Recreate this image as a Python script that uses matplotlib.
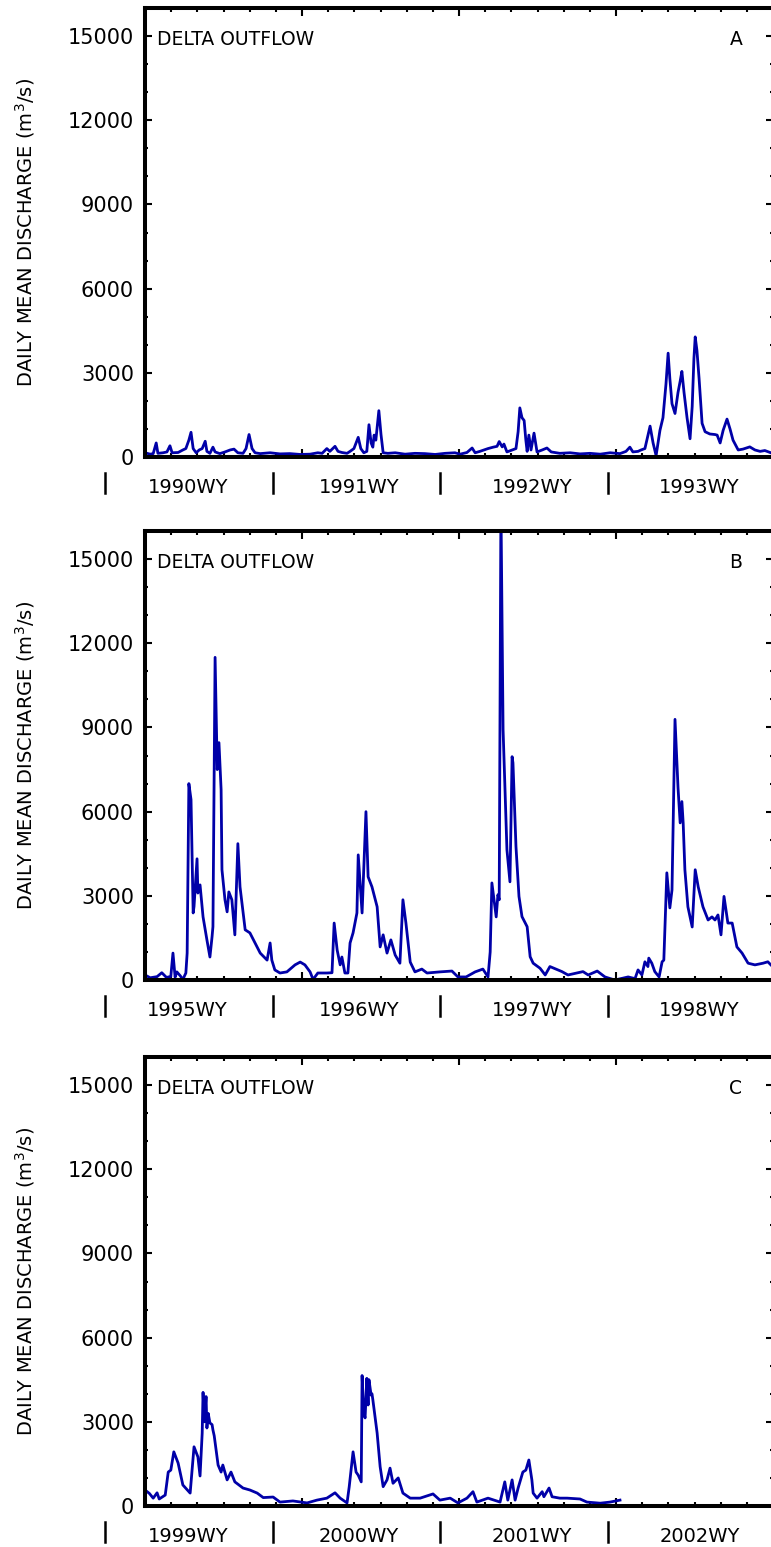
import matplotlib
matplotlib.use('Agg')
import matplotlib.pyplot as plt
from matplotlib.ticker import MultipleLocator

# days since Oct 1 of the first water year shown, daily mean discharge (m3/s)
a_day = [0, 12, 19, 26, 30, 42, 51, 58, 63, 77, 88, 95, 102, 107, 112, 119, 126, 133, 140, 144,
         151, 158, 163, 174, 186, 198, 207, 216, 228, 235, 242, 249, 256, 268, 291, 314, 337, 361,
         384, 402, 412, 423, 430, 442, 449, 458, 470, 477, 486, 496, 502, 509, 516, 521, 526, 530,
         533, 537, 544, 549, 554, 565, 582, 605, 628, 651, 675, 698, 721, 733, 749, 761, 768, 779,
         798, 810, 819, 824, 831, 835, 842, 854, 863, 868, 872, 877, 882, 886, 889, 893, 898, 905,
         912, 924, 935, 945, 965, 989, 1012, 1035, 1059, 1082, 1105, 1119, 1128, 1135, 1147, 1154,
         1163, 1175, 1182, 1189, 1198, 1205, 1212, 1217, 1221, 1226, 1233, 1240, 1245, 1249, 1254,
         1261, 1268, 1273, 1277, 1280, 1284, 1289, 1296, 1303, 1314, 1326, 1331, 1338, 1345, 1354,
         1361, 1368, 1380, 1391, 1407, 1419, 1431, 1442, 1456]
a_flow = [150, 100, 120, 500, 130, 150, 180, 400, 150, 160, 250, 300, 600, 880, 300, 150, 250, 300, 560, 200,
          130, 350, 180, 120, 180, 250, 280, 150, 130, 300, 800, 300, 150, 120, 150, 110, 120, 90,
          100, 150, 130, 300, 200, 380, 200, 160, 130, 200, 300, 700, 300, 150, 200, 1150, 500, 350,
          780, 600, 1650, 800, 150, 130, 150, 100, 130, 120, 90, 130, 150, 100, 160, 320, 150, 200,
          300, 350, 380, 550, 360, 460, 180, 250, 300, 900, 1750, 1400, 1300, 600, 200, 780, 250, 850,
          180, 250, 320, 180, 130, 150, 110, 130, 100, 150, 120, 200, 350, 180, 200, 250,
          300, 1100, 500, 50, 950, 1400, 2600, 3700, 2800, 1900, 1550, 2300, 2700, 3050, 2300,
          1400, 650, 1800, 3500, 4280, 3800, 2800, 1200, 900, 820, 800, 780, 500, 950, 1350,
          1000, 600, 250, 280, 360, 250, 200, 230, 150]

b_day = [0, 12, 28, 39, 50, 60, 65, 70, 74, 82, 88, 95, 98, 102, 107, 112, 114, 121, 123, 128,
         135, 144, 151, 156, 158, 163, 168, 172, 177, 179, 186, 191, 195, 202, 209, 216, 221, 233,
         244, 256, 268, 284, 291, 295, 302, 314, 330, 349, 361, 372, 384, 391, 402, 423, 435, 440,
         447, 454, 458, 465, 472, 477, 484, 493, 496, 505, 514, 519, 528, 540, 547, 554, 563, 572,
         582, 593, 600, 607, 617, 628, 644, 656, 686, 714, 728, 747, 768, 786, 798, 803, 807, 817,
         821, 824, 828, 833, 842, 849, 854, 856, 863, 870, 877, 889, 896, 903, 919, 931, 942, 970,
         984, 1019, 1031, 1052, 1070, 1093, 1124, 1140, 1147, 1156, 1163, 1170, 1172, 1179, 1186,
         1196, 1203, 1207, 1214, 1221, 1226, 1233, 1240, 1245, 1249, 1252, 1256, 1263, 1273, 1280,
         1287, 1298, 1310, 1319, 1326, 1333, 1340, 1347, 1356, 1366, 1377, 1389, 1403, 1419, 1438,
         1449, 1456]
b_flow = [180, 80, 120, 260, 90, 130, 960, 100, 290, 150, 20, 250, 960, 7000, 6430, 2390, 2620, 4320, 3100, 3390,
          2250, 1430, 820, 1550, 1900, 11500, 7500, 8460, 6790, 3930, 2860, 2430, 3140, 2860, 1610, 4860, 3320, 1790,
          1680, 1320, 960, 710, 1320, 710, 360, 250, 290, 540, 640, 540, 290, 20, 250, 250, 260, 2030,
          1070, 540, 820, 250, 250, 1320, 1680, 2390, 4460, 2390, 6000, 3680, 3320, 2610, 1180, 1610, 960, 1430,
          890, 600, 2860, 2030, 640, 290, 390, 250, 290, 320, 110, 110, 290, 390, 110, 1000, 3460, 2250,
          3040, 2860, 17000, 8930, 4640, 3500, 7960, 7740, 4760, 2980, 2260, 1900, 830, 600, 420, 180, 480, 300,
          180, 300, 180, 320, 110, 0, 110, 50, 360, 180, 650, 480, 780, 600, 300,
          110, 650, 710, 3820, 2570, 3210, 9290, 6860, 5600, 6360, 5600, 3930, 2610, 1890, 3930,
          3320, 2610, 2140, 2250, 2140, 2320, 1610, 2980, 2030, 2030, 1180, 960, 600, 540, 600,
          650, 540]

c_day = [0, 10, 19, 28, 33, 47, 54, 60, 67, 77, 88, 105, 114, 123, 128, 133, 135, 138, 142, 144,
         147, 151, 156, 158, 161, 170, 177, 181, 191, 200, 209, 228, 244, 261, 275, 298, 314, 344,
         377, 400, 423, 442, 454, 470, 475, 484, 491, 496, 503, 505, 509, 512, 516, 519, 521, 526,
         528, 530, 540, 547, 554, 563, 570, 577, 589, 600, 617, 640, 670, 686, 710, 728, 749, 763,
         772, 798, 826, 837, 844, 854, 861, 868, 879, 886, 893, 900, 903, 912, 924, 928, 940, 947,
         965, 982, 1012, 1028, 1059, 1082, 1105]
c_flow = [570, 450, 280, 470, 250, 390, 1210, 1280, 1930, 1530, 750, 460, 2110, 1750, 1070, 2600, 4050, 3000, 3900, 2780,
          3300, 2960, 2900, 2710, 2500, 1460, 1210, 1460, 930, 1210, 860, 640, 570, 460, 300, 320, 140, 180,
          110, 210, 280, 470, 280, 110, 680, 1930, 1210, 1100, 860, 4650, 3300, 3140, 4550, 3600, 4500, 3950,
          4000, 3790, 2600, 1400, 690, 930, 1350, 810, 1000, 460, 280, 280, 430, 210, 280, 110, 280, 510,
          140, 280, 140, 860, 210, 930, 210, 640, 1210, 1280, 1640, 930, 460, 280, 510, 330, 640, 330,
          280, 280, 250, 140, 100, 140, 210]

panel_letters = ['A', 'B', 'C']
water_years = [['1990WY', '1991WY', '1992WY', '1993WY'],
               ['1995WY', '1996WY', '1997WY', '1998WY'],
               ['1999WY', '2000WY', '2001WY', '2002WY']]

year_pos = [0.068, 0.341, 0.616, 0.883]
sep_pos = [-0.064, 0.204, 0.470, 0.737]

line_color = '#0000A8'

fig = plt.figure(figsize=(7.71, 15.47), dpi=100)

bottoms = [0.7046, 0.3665, 0.0265]
days = [a_day, b_day, c_day]
flows = [a_flow, b_flow, c_flow]

for i in range(3):
    ax = fig.add_axes([0.1881, bottoms[i], 0.8145, 0.2902])
    ax.plot(days[i], flows[i], color=line_color, linewidth=2.0)

    ax.set_xlim(0, 1461)
    ax.set_ylim(0, 16000)
    ax.xaxis.set_major_locator(MultipleLocator(365.25))
    ax.xaxis.set_minor_locator(MultipleLocator(365.25 / 6))
    ax.yaxis.set_major_locator(MultipleLocator(3000))
    ax.yaxis.set_minor_locator(MultipleLocator(1000))

    for s in ax.spines.values():
        s.set_linewidth(2.9)

    ax.tick_params(which='both', direction='in', top=True, right=True, width=1.5)
    ax.tick_params(axis='x', which='major', length=6, labelbottom=False)
    ax.tick_params(axis='x', which='minor', length=3)
    ax.tick_params(axis='y', which='major', length=5, labelsize=15, pad=8)
    ax.tick_params(axis='y', which='minor', length=2.5)

    ax.text(0.019, 0.931, 'DELTA OUTFLOW', transform=ax.transAxes,
            fontsize=13.5, ha='left', va='center')
    ax.text(0.941, 0.931, panel_letters[i], transform=ax.transAxes,
            fontsize=13.5, ha='center', va='center')

    ax.text(-0.191, 0.5, r'DAILY MEAN DISCHARGE (m$^3$/s)', transform=ax.transAxes,
            rotation=90, fontsize=14, ha='center', va='center')

    for j in range(4):
        ax.text(year_pos[j], -0.067, water_years[i][j], transform=ax.transAxes,
                fontsize=14, ha='center', va='center')
        # short separator bar between water-year labels
        ax.plot([sep_pos[j], sep_pos[j]], [-0.036, -0.080], transform=ax.transAxes,
                color='black', linewidth=1.8, clip_on=False)

plt.savefig('out.png', dpi=100)
